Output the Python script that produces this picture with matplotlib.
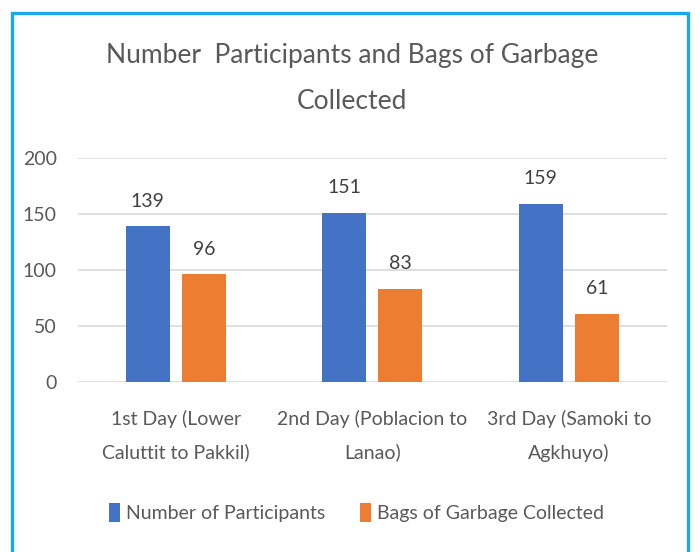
import matplotlib
matplotlib.use("Agg")
import matplotlib.pyplot as plt
from matplotlib.patches import Rectangle
import numpy as np

BLUE = "#4472c4"
ORANGE = "#ed7d31"
TEXT = "#595959"
GRID = "#d9d9d9"
BORDER = "#1aa7ec"

days = [
    "1st Day (Lower\nCaluttit to Pakkil)",
    "2nd Day (Poblacion to\nLanao)",
    "3rd Day (Samoki to\nAgkhuyo)",
]
participants = [139, 151, 159]
bags = [96, 83, 61]
series_names = ["Number of Participants", "Bags of Garbage Collected"]
y_ticks = [0, 50, 100, 150, 200]

plt.rcParams["font.family"] = ["Lato", "DejaVu Sans"]

fig = plt.figure(figsize=(7, 5.52), dpi=100)
ax = fig.add_axes([0.111, 0.308, 0.842, 0.406])

x = np.arange(len(days))
width = 0.224
offset = 0.143
b1 = ax.bar(x - offset, participants, width, color=BLUE, label=series_names[0])
b2 = ax.bar(x + offset, bags, width, color=ORANGE, label=series_names[1])

for bars in (b1, b2):
    for rect in bars:
        ax.annotate(f"{int(rect.get_height())}",
                    (rect.get_x() + rect.get_width() / 2, rect.get_height()),
                    xytext=(0, 12), textcoords="offset points",
                    ha="center", va="bottom", fontsize=14, color="#404040")

ax.set_xlim(-0.5, 2.5)
ax.set_ylim(0, 200)
ax.set_yticks(y_ticks)
ax.set_xticks(x)
ax.set_xticklabels(days, linespacing=2.05)
ax.tick_params(axis="both", length=0, labelsize=14, colors=TEXT)
ax.tick_params(axis="y", pad=15)
ax.tick_params(axis="x", pad=20)
ax.yaxis.grid(True, color=GRID, linewidth=1.2)
ax.set_axisbelow(True)
for s in ax.spines.values():
    s.set_visible(False)

fig.text(0.503, 0.858, "Number  Participants and Bags of Garbage\nCollected",
         ha="center", va="center", fontsize=19, color=TEXT, linespacing=2.05)

fig.legend(loc="center", bbox_to_anchor=(0.509, 0.071), ncol=2, frameon=False,
           fontsize=14, handlelength=0.57, handleheight=1.1, handletextpad=0.3,
           columnspacing=1.8, labelcolor=TEXT)

fig.patches.append(Rectangle((12 / 700, -0.05), 676 / 700, 1 - 13 / 552 + 0.05,
                             transform=fig.transFigure, fill=False,
                             edgecolor=BORDER, linewidth=2.4))

fig.savefig("out.png", dpi=100)
